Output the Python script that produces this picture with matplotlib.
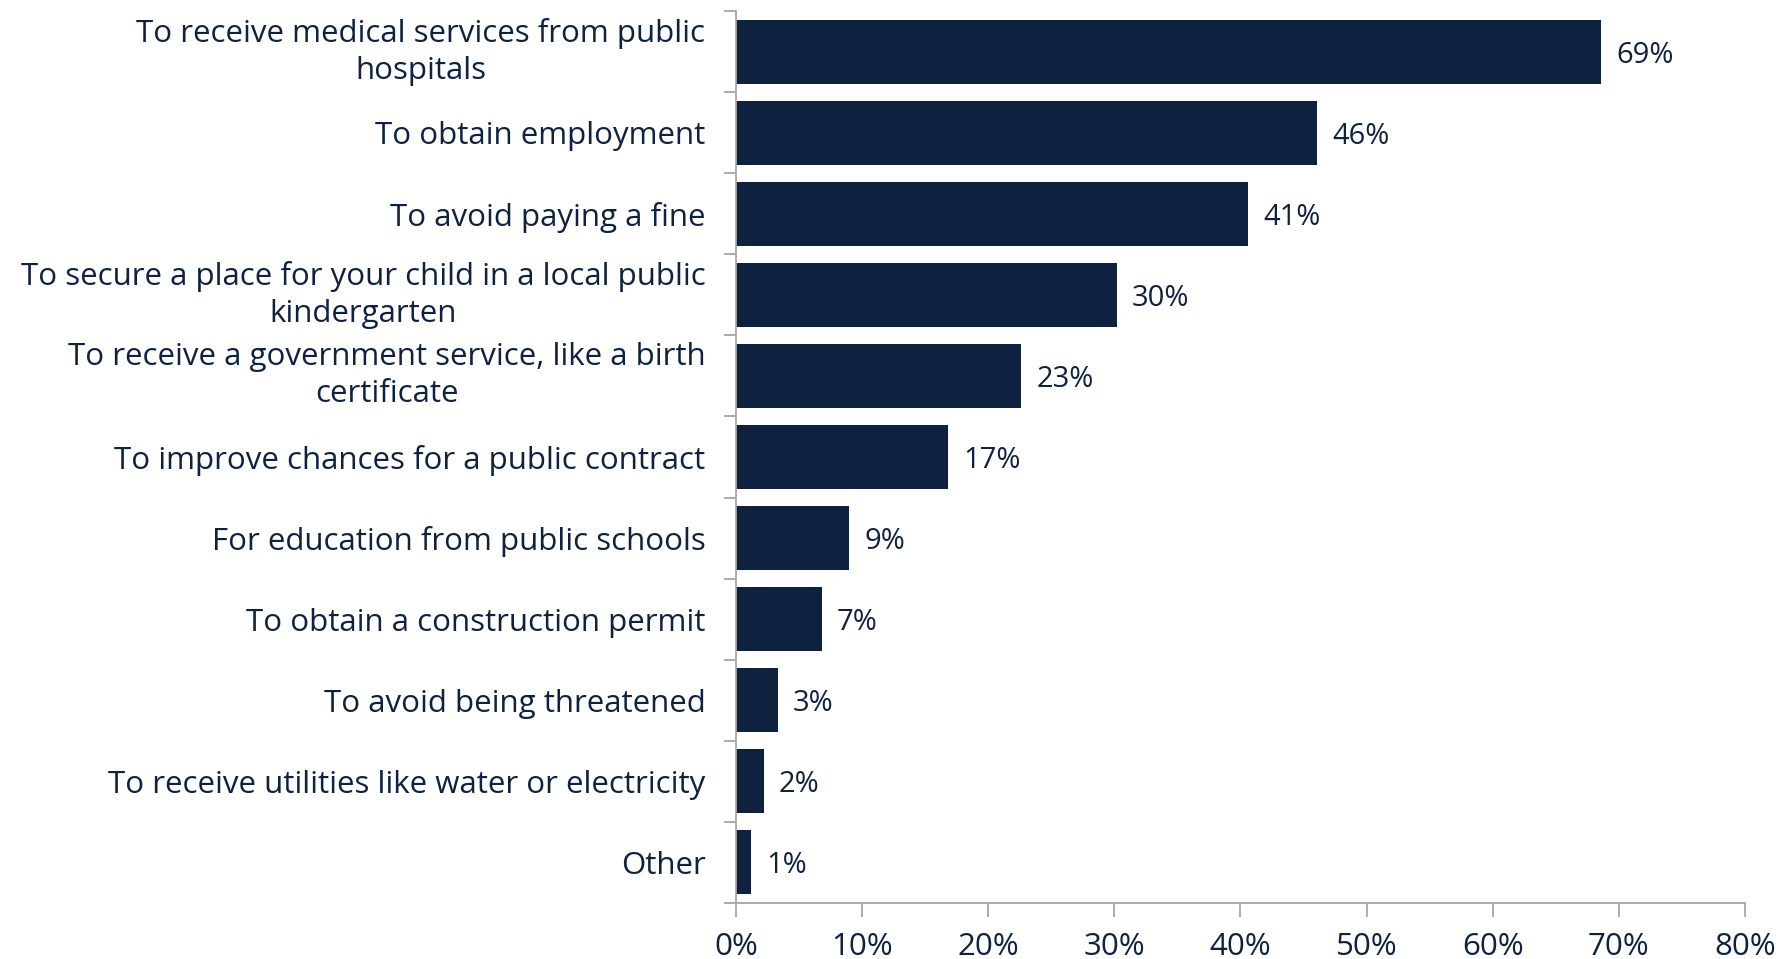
import matplotlib
matplotlib.use("Agg")
import matplotlib.pyplot as plt
from matplotlib.ticker import FuncFormatter, FixedLocator

categories = [
    "To receive medical services from public\nhospitals",
    "To obtain employment",
    "To avoid paying a fine",
    "To secure a place for your child in a local public\nkindergarten",
    "To receive a government service, like a birth\ncertificate",
    "To improve chances for a public contract",
    "For education from public schools",
    "To obtain a construction permit",
    "To avoid being threatened",
    "To receive utilities like water or electricity",
    "Other",
]
values = [68.6, 46.1, 40.6, 30.2, 22.6, 16.8, 9.0, 6.8, 3.3, 2.2, 1.2]
value_labels = ["69%", "46%", "41%", "30%", "23%", "17%", "9%", "7%", "3%", "2%", "1%"]
xticks = [0, 10, 20, 30, 40, 50, 60, 70, 80]

bar_color = "#0e2240"
text_color = "#0e2240"
axis_color = "#a6a6a6"

font = ["Open Sans", "DejaVu Sans"]
fs = 22.5
plt.rcParams["font.family"] = font

fig = plt.figure(figsize=(17.85, 9.59), dpi=100)
ax = fig.add_axes([0.4123, 0.0584, 0.9776 - 0.4123, 0.9885 - 0.0584])

n = len(categories)
ypos = list(range(n))
ax.barh(ypos, values, height=0.79, color=bar_color, edgecolor="none")
ax.set_ylim(n - 0.5, -0.5)
ax.set_xlim(0, 80)

ax.set_yticks(ypos)
ax.set_yticklabels(categories, fontsize=fs, color=text_color,
                   linespacing=1.3, multialignment="center")
for lab in ax.get_yticklabels():
    if "\n" in lab.get_text():
        lab.set_verticalalignment("center")
ax.tick_params(axis="y", length=0, pad=22)
ax.yaxis.set_minor_locator(FixedLocator([i - 0.5 for i in range(n + 1)]))
ax.tick_params(axis="y", which="minor", length=9, width=1.3, color=axis_color)

ax.set_xticks(xticks)
ax.xaxis.set_major_formatter(FuncFormatter(lambda v, p: f"{int(v)}%"))
ax.tick_params(axis="x", length=10, width=1.3, color=axis_color, labelsize=fs,
               labelcolor=text_color, pad=11)

for s in ["top", "right"]:
    ax.spines[s].set_visible(False)
for s in ["left", "bottom"]:
    ax.spines[s].set_color(axis_color)
    ax.spines[s].set_linewidth(1.3)

for y, v, lab in zip(ypos, values, value_labels):
    ax.annotate(lab, xy=(v, y), xytext=(11, 0), textcoords="offset points",
                va="center_baseline", ha="left", fontsize=21, color=text_color)

fig.savefig("out.png", dpi=100, facecolor="white")
